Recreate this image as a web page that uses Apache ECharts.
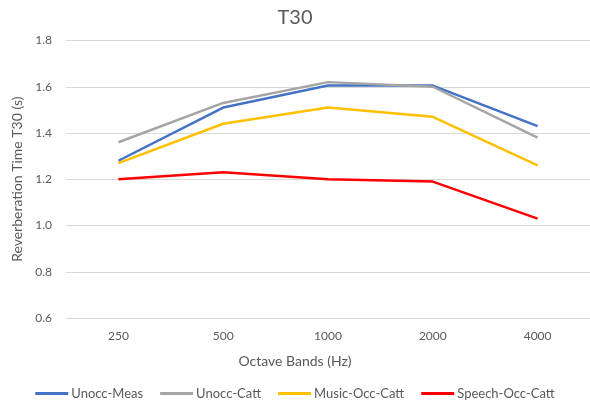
<!DOCTYPE html>
<html>
<head>
<meta charset="utf-8">
<script src="https://cdn.jsdelivr.net/npm/echarts@6/dist/echarts.min.js"></script>
<style>html,body{margin:0;padding:0;background:#fff}#c{width:590px;height:403px}</style>
</head>
<body>
<div id="c"></div>
<script>
var categories = ['250', '500', '1000', '2000', '4000'];
var unoccMeas = [1.28, 1.51, 1.605, 1.605, 1.43];
var unoccCatt = [1.36, 1.53, 1.62, 1.60, 1.38];
var musicOccCatt = [1.27, 1.44, 1.51, 1.47, 1.26];
var speechOccCatt = [1.20, 1.23, 1.20, 1.19, 1.03];
var seriesNames = ['Unocc-Meas', 'Unocc-Catt', 'Music-Occ-Catt', 'Speech-Occ-Catt'];
var colors = ['#4472C4', '#A5A5A5', '#FFC000', '#FF0000'];
var font = 'Lato, "Open Sans", sans-serif';

var chart = echarts.init(document.getElementById('c'));
var data = [unoccMeas, unoccCatt, musicOccCatt, speechOccCatt];
chart.setOption({
  animation: false,
  color: colors,
  textStyle: { fontFamily: font },
  title: [
    { text: 'T30', left: 'center', top: 3, textStyle: { fontFamily: font, fontSize: 20, fontWeight: 'normal', color: '#595959' } },
    { text: 'Octave Bands (Hz)', left: 'center', top: 349, textStyle: { fontFamily: font, fontSize: 14, fontWeight: 'normal', color: '#595959' } }
  ],
  grid: { left: 66, top: 40.5, width: 529, height: 277.5, containLabel: false },
  legend: {
    bottom: -2, left: 'center',
    icon: 'rect', itemWidth: 33, itemHeight: 3, itemGap: 17,
    textStyle: { fontFamily: font, fontSize: 13, color: '#595959', padding: [0, 0, 0, -2] },
    data: seriesNames
  },
  xAxis: {
    type: 'category', data: categories, boundaryGap: true,
    axisLine: { show: false }, axisTick: { show: false },
    axisLabel: { color: '#595959', fontSize: 12, margin: 12, fontFamily: font }
  },
  yAxis: {
    type: 'value', min: 0.6, max: 1.8, interval: 0.2,
    name: 'Reverberation Time T30 (s)', nameLocation: 'middle', nameGap: 40,
    nameTextStyle: { color: '#595959', fontSize: 14, fontFamily: font },
    axisLabel: { color: '#595959', fontSize: 12, margin: 14, fontFamily: font, formatter: function (v) { return v.toFixed(1); } },
    splitLine: { lineStyle: { color: '#D9D9D9', width: 1 } },
    axisLine: { show: false }, axisTick: { show: false }
  },
  series: seriesNames.map(function (n, i) {
    return { name: n, type: 'line', data: data[i], showSymbol: false, symbol: 'none', lineStyle: { width: 2.5, color: colors[i] }, itemStyle: { color: colors[i] } };
  })
});
</script>
</body>
</html>
